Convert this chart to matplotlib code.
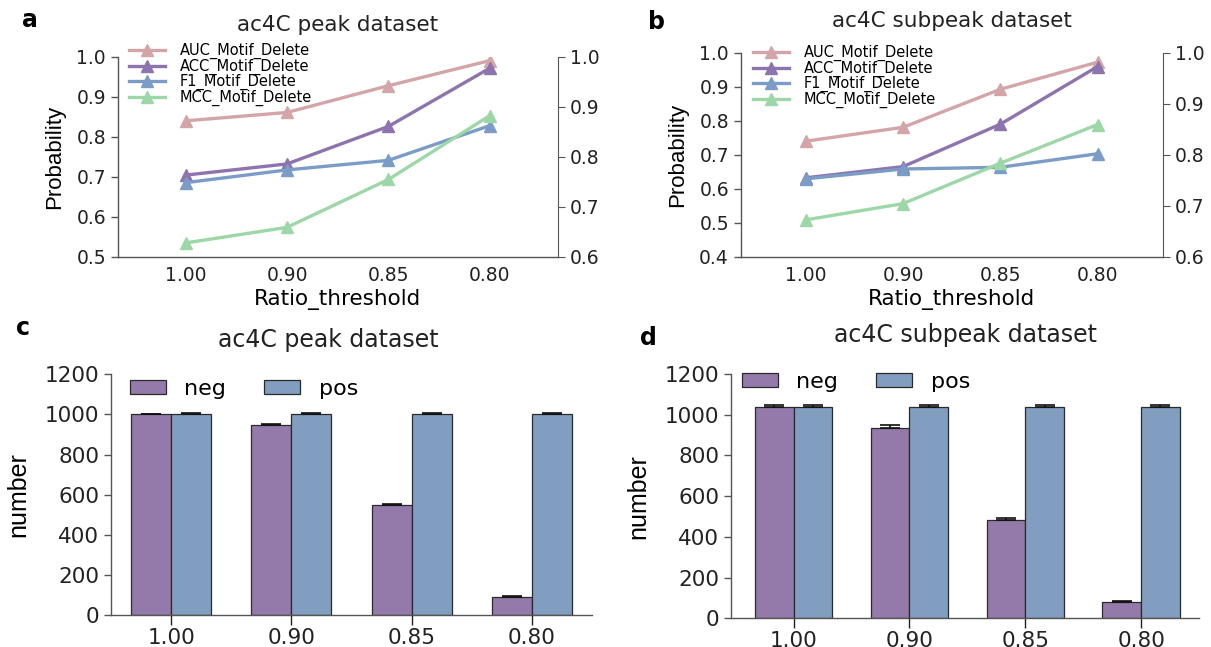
import numpy as np
import matplotlib
matplotlib.use("Agg")
import matplotlib.pyplot as plt

plt.rcParams['font.family'] = ['DejaVu Sans']
narrow = ['Liberation Sans Narrow', 'DejaVu Sans Condensed', 'Liberation Sans']

thresholds = ['1.00', '0.90', '0.85', '0.80']
metric_names = ['AUC_Motif_Delete', 'ACC_Motif_Delete', 'F1_Motif_Delete', 'MCC_Motif_Delete']

# panel a - ac4C peak dataset
peak_auc = [0.840, 0.861, 0.928, 0.991]
peak_acc = [0.704, 0.732, 0.826, 0.972]
peak_f1 = [0.685, 0.717, 0.741, 0.828]
peak_mcc = [0.534, 0.573, 0.693, 0.853]

# panel b - ac4C subpeak dataset
sub_auc = [0.740, 0.781, 0.893, 0.973]
sub_acc = [0.632, 0.665, 0.790, 0.960]
sub_f1 = [0.629, 0.658, 0.663, 0.703]
sub_mcc = [0.508, 0.556, 0.675, 0.789]

# panel c - counts, peak
peak_neg = [1000, 950, 550, 91]
peak_pos = [1000, 1000, 1000, 1000]
peak_neg_err = [4, 5, 4, 3]
peak_pos_err = [5, 5, 5, 5]

# panel d - counts, subpeak
sub_neg = [1040, 935, 485, 80]
sub_pos = [1040, 1040, 1040, 1040]
sub_neg_err = [9, 14, 8, 5]
sub_pos_err = [9, 9, 9, 9]

line_colors = ['#D3A5A9', '#8E74AE', '#7B9CC6', '#9DD7A8']
neg_color = '#9479AB'
pos_color = '#819DBF'
spine_col = '#555555'
W, H = 1211, 647


def fig_rect(x0, y0, x1, y1):
    # pixel box (top-left origin) -> figure fraction
    return [x0 / W, 1 - y1 / H, (x1 - x0) / W, (y1 - y0) / H]


def style_axis(ax):
    for s in ['top', 'right']:
        ax.spines[s].set_visible(False)
    for s in ['left', 'bottom']:
        ax.spines[s].set_color(spine_col)
        ax.spines[s].set_linewidth(1.0)
    ax.tick_params(colors=spine_col, labelcolor='#222222', width=1.0, length=5)


def line_panel(rect, title, series, ylo, yticks, leg_xy, title_xy):
    ax = fig.add_axes(rect)
    x = np.arange(len(thresholds))
    for vals, name, col in zip(series, metric_names, line_colors):
        ax.plot(x, vals, color=col, lw=2.4, marker='^', ms=8, label=name)
    ax.set_xlim(-0.67, 3.67)
    ax.set_ylim(ylo, 1.0)
    ax.set_yticks(yticks)
    ax.yaxis.set_major_formatter(plt.FormatStrFormatter('%.1f'))
    ax.set_xticks(x)
    ax.set_xticklabels(thresholds)
    style_axis(ax)
    ax.tick_params(axis='x', length=0, pad=7)
    ax.tick_params(labelsize=13.5)
    ax.set_xlabel('Ratio_threshold', fontsize=15.5, labelpad=3)
    ax.set_ylabel('Probability', fontsize=16, family=narrow, labelpad=8)
    ax2 = ax.twinx()
    ax2.set_ylim(0.6, 1.0)
    ax2.set_yticks([0.6, 0.7, 0.8, 0.9, 1.0])
    ax2.yaxis.set_major_formatter(plt.FormatStrFormatter('%.1f'))
    for s in ['top', 'left', 'bottom']:
        ax2.spines[s].set_visible(False)
    ax2.spines['right'].set_color(spine_col)
    ax2.tick_params(colors=spine_col, labelcolor='#222222', length=5, labelsize=13.5)
    ax.legend(loc='upper left', bbox_to_anchor=(leg_xy[0] / W, 1 - leg_xy[1] / H),
              bbox_transform=fig.transFigure, frameon=False, fontsize=10.5,
              handlelength=2.5, handletextpad=1.0, labelspacing=-0.04,
              borderpad=0, borderaxespad=0)
    fig.text(title_xy[0] / W, 1 - title_xy[1] / H, title, fontsize=15.5,
             ha='center', va='center', color='#222222')
    return ax


def bar_panel(rect, title, neg, pos, neg_err, pos_err, xlim, leg_xy, title_xy):
    ax = fig.add_axes(rect)
    x = np.arange(len(thresholds))
    w = 1 / 3
    ax.bar(x - w / 2, neg, w, color=neg_color, edgecolor='#2a2a2a', lw=0.9,
           yerr=[np.zeros(4), neg_err], capsize=7, error_kw=dict(elinewidth=1.2, capthick=1.2, ecolor='#111111'),
           label='neg')
    ax.bar(x + w / 2, pos, w, color=pos_color, edgecolor='#2a2a2a', lw=0.9,
           yerr=[np.zeros(4), pos_err], capsize=7, error_kw=dict(elinewidth=1.2, capthick=1.2, ecolor='#111111'),
           label='pos')
    ax.set_xlim(*xlim)
    ax.set_ylim(0, 1200)
    ax.set_yticks(range(0, 1201, 200))
    ax.set_xticks(x)
    ax.set_xticklabels(thresholds)
    style_axis(ax)
    ax.tick_params(axis='x', colors='#222222', length=7, pad=2)
    ax.tick_params(labelsize=15.5)
    ax.set_ylabel('number', fontsize=18, family=narrow, labelpad=10)
    ax.legend(loc='upper left', bbox_to_anchor=(leg_xy[0] / W, 1 - leg_xy[1] / H),
              bbox_transform=fig.transFigure, frameon=False, fontsize=16, ncol=2,
              handlelength=1.6, handleheight=0.6, handletextpad=0.85, columnspacing=1.7,
              borderpad=0, borderaxespad=0)
    fig.text(title_xy[0] / W, 1 - title_xy[1] / H, title, fontsize=17,
             ha='center', va='center', color='#222222')
    return ax


fig = plt.figure(figsize=(W / 100, H / 100), dpi=100)

line_panel(fig_rect(117.7, 57, 557.7, 256.5), 'ac4C peak dataset',
           [peak_auc, peak_acc, peak_f1, peak_mcc], 0.5, [0.5, 0.6, 0.7, 0.8, 0.9, 1.0],
           (129, 43), (338, 25))
line_panel(fig_rect(740.7, 53, 1162.7, 256.5), 'ac4C subpeak dataset',
           [sub_auc, sub_acc, sub_f1, sub_mcc], 0.4, [0.4, 0.5, 0.6, 0.7, 0.8, 0.9, 1.0],
           (753, 45), (952, 21))
bar_panel(fig_rect(111, 374.3, 592, 615.3), 'ac4C peak dataset',
          peak_neg, peak_pos, peak_neg_err, peak_pos_err, (-0.5, 3.5), (130, 379), (328, 340))
bar_panel(fig_rect(731, 374, 1199, 618.3), 'ac4C subpeak dataset',
          sub_neg, sub_pos, sub_neg_err, sub_pos_err, (-0.54, 3.5), (742, 372), (965, 335))

for lab, px, py in [('a', 22, 20), ('b', 648, 22), ('c', 16, 328), ('d', 640, 338)]:
    fig.text(px / W, 1 - py / H, lab, fontsize=17, fontweight='bold', ha='left', va='center')

fig.savefig('out.png', dpi=100)
